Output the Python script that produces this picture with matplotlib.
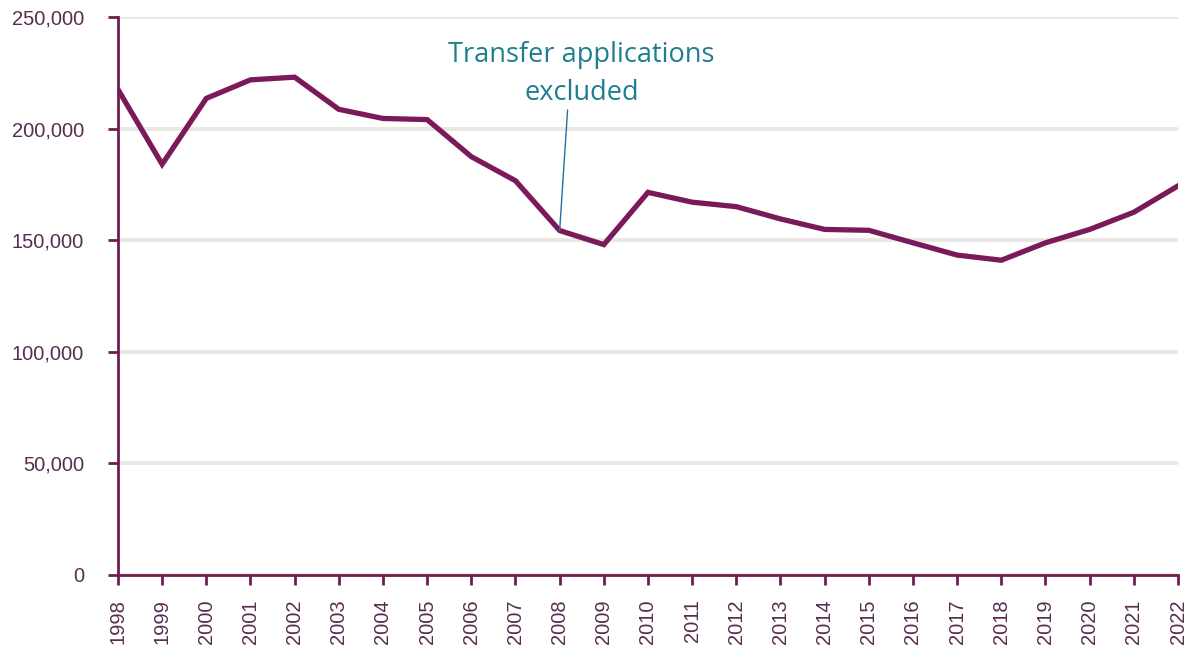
import matplotlib
matplotlib.use("Agg")
import matplotlib.pyplot as plt
from matplotlib.ticker import FuncFormatter

years = list(range(1998, 2023))
applications = [217500, 184000, 213500, 221800, 223000, 208600, 204500, 204000,
                187400, 176600, 154300, 148000, 171400, 167000, 165000, 159500,
                154800, 154400, 148800, 143300, 141000, 148800, 154800, 162500,
                174300]
annotation_text = "Transfer applications\nexcluded"
annotation_year = 2008
y_ticks = [0, 50000, 100000, 150000, 200000, 250000]

line_color = "#7a1a5a"
axis_color = "#6b1f4f"
label_color = "#5a2d4f"
grid_color = "#e9e7e2"
teal = "#1d7f8e"

fig = plt.figure(figsize=(11.94, 6.5), dpi=100)
ax = fig.add_axes([0.0988, 0.1154, 0.8878, 0.8586])

ax.plot(years, applications, color=line_color, lw=3.8, solid_joinstyle="miter", zorder=3)

ax.set_xlim(years[0], years[-1])
ax.set_ylim(0, 250000)
ax.set_yticks(y_ticks)
ax.set_xticks(years)
ax.set_xticklabels([str(y) for y in years], rotation=90)
ax.yaxis.set_major_formatter(FuncFormatter(lambda v, p: f"{int(v):,}"))

ax.grid(axis="y", color=grid_color, lw=2.8, zorder=0)
ax.grid(axis="x", visible=False)

for s in ["top", "right"]:
    ax.spines[s].set_visible(False)
for s in ["left", "bottom"]:
    ax.spines[s].set_color(axis_color)
    ax.spines[s].set_linewidth(2)

ax.tick_params(axis="both", colors=axis_color, width=2, length=7.5,
               labelcolor=label_color, labelsize=14.5)
ax.tick_params(axis="y", pad=17)
ax.tick_params(axis="x", pad=10)
for lab in ax.get_xticklabels() + ax.get_yticklabels():
    lab.set_fontfamily(["Liberation Sans", "DejaVu Sans"])

idx = years.index(annotation_year)
ax.text(annotation_year + 0.5, 224500, annotation_text, ha="center", va="center",
        fontsize=19.5, color=teal, family=["Open Sans", "DejaVu Sans"],
        linespacing=1.45, zorder=4)
ax.annotate("", xy=(annotation_year, applications[idx]),
            xytext=(annotation_year + 0.18, 208300), textcoords="data",
            arrowprops=dict(arrowstyle="-", color="#2570a5", lw=1,
                            shrinkA=0, shrinkB=0), zorder=4)

fig.savefig("out.png", dpi=100, facecolor="white")
